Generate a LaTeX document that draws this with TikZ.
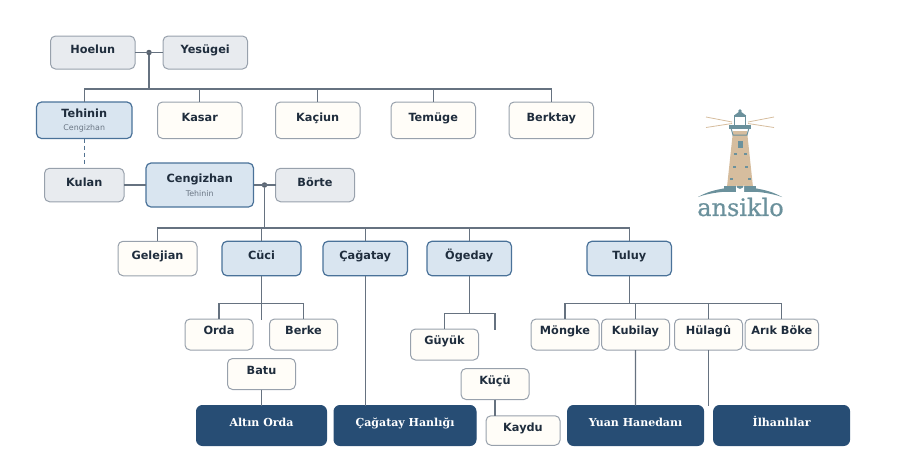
\documentclass[tikz,border=0pt]{standalone}
\usepackage{fontspec}
\usepackage{xcolor}
\setmainfont{DejaVu Sans}
\newfontfamily\dynastyfont{DejaVu Serif}
\newfontfamily\logofont[FakeBold=0.6]{DejaVu Serif}
\usetikzlibrary{positioning,calc}
\definecolor{inkdark}{HTML}{1F2D3D}
\definecolor{linegray}{HTML}{667280}
\definecolor{edgegray}{HTML}{98A1AC}
\definecolor{edgeblue}{HTML}{4A7299}
\definecolor{fillblue}{HTML}{D9E5F0}
\definecolor{fillgray}{HTML}{E8EBEF}
\definecolor{fillpale}{HTML}{FFFDF8}
\definecolor{navy}{HTML}{274D74}
\definecolor{logoteal}{HTML}{6B919C}
\definecolor{logotan}{HTML}{D6BD9E}
\definecolor{subgray}{HTML}{6B7785}
\newcommand{\subnamefont}{\fontsize{7.9}{10}\selectfont\mdseries\color{subgray}}
\begin{document}
\begin{tikzpicture}[
      x=1pt, y=-1pt,
      font=\fontsize{11.3}{14}\selectfont\bfseries,
      box/.style={draw=edgegray, line width=1pt, rounded corners=5pt, align=center, inner sep=0pt, outer sep=0pt, text=inkdark},
      single/.style={box, text height=8pt, text depth=6pt},
      parent/.style={single, fill=fillgray},
      child/.style={single, fill=fillpale},
      heir/.style={single, fill=fillblue, draw=edgeblue, line width=1.2pt},
      heirsub/.style={box, fill=fillblue, draw=edgeblue, line width=1.2pt},
      dynasty/.style={box, fill=navy, draw=navy, text=white, rounded corners=6pt, minimum width=#1, minimum height=40pt, font=\dynastyfont\fontsize{11}{14}\selectfont\bfseries, text height=8pt, text depth=6pt},
      gensize/.style={minimum width=84.5pt, minimum height=34.5pt},
      kidsize/.style={minimum width=68pt, minimum height=31pt, text depth=7.5pt},
      dot/.style={circle, fill=linegray!85!black, inner sep=0pt, minimum size=5.5pt},
      link/.style={draw=linegray, line width=1.25pt}
    ]
    \useasboundingbox (0,0) rectangle (900,461);
    % parents
    \node[parent, minimum width=84.5pt, minimum height=33pt] (hoelun) at (92.75,52.5) {Hoelun};
    \node[parent, minimum width=84.5pt, minimum height=33pt, right=28pt of hoelun] (yesugei) {Yesügei};
    % siblings
    \node[heirsub, minimum width=95.5pt, minimum height=36.5pt] (tehinin) at (84.25,120.25) {Tehinin\\[-1pt]{\subnamefont Cengizhan}};
    \node[child, gensize, minimum height=36.5pt, right=25.5pt of tehinin] (kasar) {Kasar};
    \node[child, gensize, minimum height=36.5pt, right=33.5pt of kasar] (kaciun) {Kaçiun};
    \node[child, gensize, minimum height=36.5pt, right=31pt of kaciun] (temuge) {Temüge};
    \node[child, gensize, minimum height=36.5pt, right=33.5pt of temuge] (berktay) {Berktay};
    % spouses
    \node[heirsub, minimum width=107.5pt, minimum height=44pt] (cengizhan) at (199.75,185) {Cengizhan\\[0pt]{\subnamefont Tehinin}};
    \node[parent, minimum width=79.5pt, minimum height=33.5pt, left=22pt of cengizhan] (kulan) {Kulan};
    \node[parent, minimum width=79pt, minimum height=33.5pt, right=22pt of cengizhan] (borte) {Börte};
    % sons
    \node[child, minimum width=79pt, minimum height=34.5pt] (gelejian) at (157.5,258.5) {Gelejian};
    \node[heir, minimum width=79pt, minimum height=34.5pt, right=25pt of gelejian] (cuci) {Cüci};
    \node[heir, gensize, right=22pt of cuci] (cagatay) {Çağatay};
    \node[heir, gensize, right=19.5pt of cagatay] (ogeday) {Ögeday};
    \node[heir, gensize, right=75.5pt of ogeday] (tuluy) {Tuluy};
    % grandsons
    \node[child, kidsize] (orda) at (219,334.5) {Orda};
    \node[child, kidsize, right=16.5pt of orda] (berke) {Berke};
    \node[child, kidsize] (batu) at (261.5,374) {Batu};
    \node[child, kidsize] (guyuk) at (444.5,344.5) {Güyük};
    \node[child, kidsize] (kucu) at (495,384) {Küçü};
    \node[child, minimum width=74pt, minimum height=29.5pt] (kaydu) at (523,430.5) {Kaydu};
    \node[child, kidsize] (mongke) at (565,334.5) {Möngke};
    \node[child, kidsize, right=2.5pt of mongke] (kubilay) {Kubilay};
    \node[child, kidsize, right=5pt of kubilay] (hulagu) {Hülagû};
    \node[child, kidsize, minimum width=73.5pt, right=2.5pt of hulagu] (arikboke) {Arık Böke};
    % dynasties
    \node[dynasty=130pt] (altinorda) at (261.5,425.5) {Altın Orda};
    \node[dynasty=142pt, right=7.5pt of altinorda] (hanlik) {Çağatay Hanlığı};
    \node[dynasty=136pt] (yuan) at (635.6,425.5) {Yuan Hanedanı};
    \node[dynasty=136pt, right=10pt of yuan] (ilhanli) {İlhanlılar};
    % junctions
    \node[dot] (dotparents) at ($(hoelun.east)!0.5!(yesugei.west)$) {};
    \node[dot] (dotborte) at ($(cengizhan.east)!0.5!(borte.west)$) {};
    \coordinate (busone) at (dotparents |- 0,89);
    \coordinate (bustwo) at (dotborte |- 0,228);
    \coordinate (buscuci) at (cuci |- 0,303.5);
    \coordinate (busogeday) at (ogeday |- 0,313.5);
    \coordinate (bustuluy) at (tuluy |- 0,303.5);
    \coordinate (stubcuci) at (cuci |- 0,320);
    \coordinate (stubogeday) at (kucu |- 0,330);
    \coordinate (stubhulagu) at (hulagu |- 0,406);
    \coordinate (stubtehinin) at (tehinin |- 0,164);
    % edges
    \draw[link] (hoelun) -- (yesugei);
    \draw[link] (dotparents) -- (busone);
    \foreach \kid in {tehinin,kasar,kaciun,temuge,berktay}
      \draw[link] (busone) -| (\kid);
    \draw[link, line width=1pt, dash pattern=on 4pt off 3pt, draw=edgeblue!70!linegray] (tehinin) -- (stubtehinin);
    \draw[link] (kulan) -- (cengizhan);
    \draw[link] (cengizhan) -- (borte);
    \draw[link] (dotborte) -- (bustwo);
    \foreach \kid in {gelejian,cuci,cagatay,ogeday,tuluy}
      \draw[link] (bustwo) -| (\kid);
    \draw[link] (cuci) -- (stubcuci);
    \draw[link] (buscuci) -| (orda);
    \draw[link] (buscuci) -| (berke);
    \draw[link] (batu) -- (altinorda);
    \draw[link] (cagatay) -- (cagatay |- hanlik.north);
    \draw[link] (ogeday) -- (busogeday);
    \draw[link] (busogeday) -| (guyuk);
    \draw[link] (busogeday) -| (stubogeday);
    \draw[link] (kucu) -- (kucu |- kaydu.north);
    \draw[link] (tuluy) -- (bustuluy);
    \foreach \kid in {mongke,kubilay,hulagu,arikboke}
      \draw[link] (bustuluy) -| (\kid);
    \draw[link] (kubilay) -- (yuan);
    \draw[link] (hulagu) -- (stubhulagu);
    % logo
    \draw[logotan, line width=0.8pt] (706,117) -- (732,122) (706,127.5) -- (732,123.5) (774,117) -- (748,122) (774,127.5) -- (748,123.5);
    \fill[logotan] (733,131) -- (747,131) -- (753,187) -- (727,187) -- cycle;
    \fill[logoteal] (698,197) .. controls (720,184) and (760,184) .. (782,197) .. controls (760,189) and (720,189) .. cycle;
    \fill[logoteal] (723.5,186) rectangle (756,192);
    \fill[white] (736,192) -- (736,185) arc (180:360:4 and -4) -- (744,192) -- cycle;
    \fill[logoteal] (737.5,141) rectangle (742.5,148);
    \foreach \wx/\wy in {734/153,744/153,733/166,745/166,730/178,748/178}
      \fill[logoteal] (\wx,\wy) rectangle ++(3,1.5);
    \draw[logoteal, line width=1.2pt] (734.5,116) rectangle (745.5,126);
    \fill[logoteal] (734,115.5) -- (740,111) -- (746,115.5) -- cycle;
    \fill[logoteal] (740,111) circle (1.8pt);
    \draw[logoteal, line width=1.2pt] (730,126) rectangle (750,128);
    \draw[logoteal, line width=1pt] (731,128) -- (733,135) -- (747,135) -- (749,128);
    \node[font=\logofont\fontsize{24}{26}\selectfont, text=logoteal, inner sep=0pt] (ansiklo) at (740.5,207) {ansiklo};
  \end{tikzpicture}
\end{document}
